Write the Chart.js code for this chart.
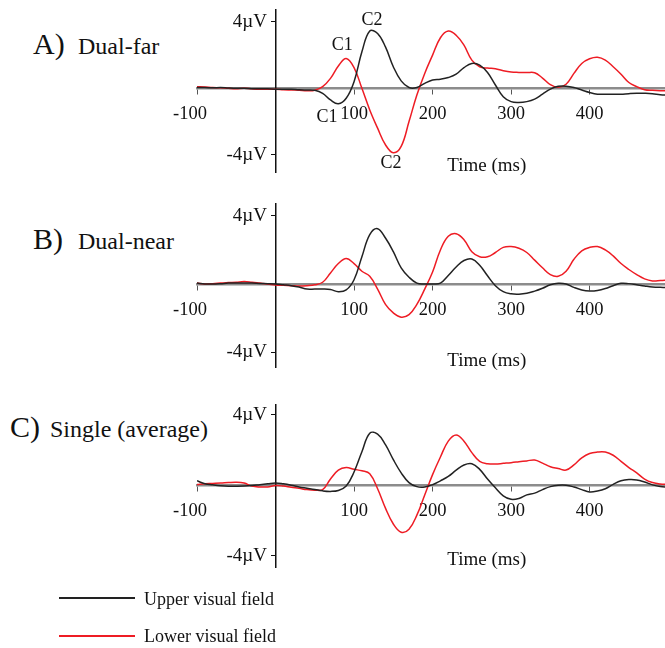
<!DOCTYPE html>
<html>
<head>
<meta charset="utf-8">
<script src="https://cdn.jsdelivr.net/npm/chart.js@4.4.1/dist/chart.umd.min.js"></script>
<style>
body { margin: 0; background: #fff; width: 665px; height: 648px; overflow: hidden; position: relative;
       font-family: "Liberation Serif", "Times New Roman", serif; color: #111; }
canvas { position: absolute; left: 0; }
.title { position: absolute; font-size: 30px; line-height: 30px; white-space: nowrap; }
.title span.k { display: inline-block; }
.title span.n { font-size: 24px; }
.leg { position: absolute; left: 59px; width: 76px; height: 2px; }
.legtxt { position: absolute; left: 144px; font-size: 18px; line-height: 20px; }
</style>
</head>
<body>

<div class="title" style="left:33px;top:29px"><span class="k" style="width:45px">A)</span><span class="n">Dual-far</span></div>
<div class="title" style="left:33px;top:224px"><span class="k" style="width:45px">B)</span><span class="n">Dual-near</span></div>
<div class="title" style="left:10px;top:412px"><span class="k" style="width:40px">C)</span><span class="n">Single (average)</span></div>

<canvas id="chartA" width="665" height="200" style="top:-10px"></canvas>
<canvas id="chartB" width="665" height="200" style="top:184px"></canvas>
<canvas id="chartC" width="665" height="200" style="top:385px"></canvas>

<div class="leg" style="top:597px;background:#222"></div>
<div class="legtxt" style="top:589px">Upper visual field</div>
<div class="leg" style="top:635px;background:#ee1c24"></div>
<div class="legtxt" style="top:626px">Lower visual field</div>

<script>
// Eixo do tempo (ms), comum aos três painéis
var tempo = [];
for (var t = -100; t <= 500; t += 10) tempo.push(t);

var ticksX = [-100, 100, 200, 300, 400];
var ticksY = [-4, 4];

// A) Dual-far
var farSuperior = [0.05, 0.05, 0.03, 0.05, 0.02, 0.0, 0.0, -0.02, -0.03, -0.03,
    -0.05, -0.05, -0.05, -0.08, -0.1, -0.12, -0.3, -0.7, -0.93, -0.6,
    0.4, 2.2, 3.45, 3.3, 2.5, 1.3, 0.45, 0.05, 0.05, 0.3,
    0.5, 0.55, 0.65, 0.85, 1.25, 1.5, 1.4, 0.95, 0.2, -0.5,
    -0.8, -0.85, -0.8, -0.65, -0.35, -0.05, 0.12, 0.13, 0.05, -0.1,
    -0.25, -0.35, -0.36, -0.36, -0.35, -0.32, -0.3, -0.3, -0.32, -0.38, -0.4];
var farInferior = [0.1, 0.08, 0.05, 0.03, 0.0, -0.02, 0.0, -0.03, -0.05, -0.05,
    -0.05, -0.08, -0.1, -0.12, -0.15, -0.12, 0.1, 0.6, 1.35, 1.8,
    1.25, 0.0, -1.3, -2.4, -3.4, -3.88, -3.5, -2.0, -0.4, 0.9,
    2.0, 3.05, 3.45, 3.2, 2.6, 1.7, 1.3, 1.22, 1.18, 1.06,
    0.98, 0.96, 0.95, 0.94, 0.62, 0.22, 0.06, 0.25, 0.9, 1.5,
    1.78, 1.87, 1.7, 1.3, 0.85, 0.35, 0.1, -0.08, -0.12, -0.14, -0.14];

// B) Dual-near
var nearSuperior = [0.05, 0.0, 0.0, 0.02, 0.05, 0.05, 0.05, 0.05, 0.03, 0.02,
    0.0, -0.05, -0.1, -0.18, -0.3, -0.3, -0.3, -0.33, -0.45, -0.35,
    0.25, 1.6, 2.9, 3.25, 2.7, 1.9, 0.95, 0.4, 0.05, 0.0,
    0.0, 0.05, 0.5, 1.0, 1.38, 1.47, 1.1, 0.48, -0.1, -0.45,
    -0.58, -0.6, -0.55, -0.42, -0.25, -0.05, 0.04, 0.0, -0.2, -0.35,
    -0.41, -0.38, -0.27, -0.1, 0.04, 0.02, -0.05, -0.12, -0.18, -0.2, -0.2];
var nearInferior = [0.05, 0.0, 0.02, 0.05, 0.08, 0.1, 0.14, 0.1, 0.05, 0.0,
    -0.06, -0.08, -0.1, -0.12, -0.1, -0.05, 0.1, 0.65, 1.2, 1.5,
    1.2, 0.75, 0.45, -0.3, -1.2, -1.7, -1.95, -1.8, -1.2, -0.3,
    0.7, 2.0, 2.8, 2.95, 2.6, 1.9, 1.6, 1.6, 1.85, 2.15,
    2.2, 2.1, 1.85, 1.4, 0.95, 0.55, 0.45, 0.75, 1.45, 1.95,
    2.15, 2.2, 2.0, 1.65, 1.2, 0.85, 0.55, 0.3, 0.18, 0.2, 0.24];

// C) Single (average)
var singleSuperior = [0.25, 0.08, 0.02, -0.03, -0.06, -0.06, -0.05, -0.02, 0.03, 0.08,
    0.13, 0.08, 0.0, -0.1, -0.17, -0.24, -0.32, -0.35, -0.3, -0.05,
    0.75, 1.9, 2.95, 2.9, 2.3, 1.45, 0.7, 0.15, -0.08, -0.1,
    0.03, 0.25, 0.5, 0.85, 1.15, 1.22, 0.9, 0.35, -0.15, -0.6,
    -0.8, -0.75, -0.55, -0.45, -0.25, -0.08, 0.0, 0.0, -0.1, -0.25,
    -0.38, -0.33, -0.2, 0.05, 0.25, 0.32, 0.3, 0.18, 0.02, -0.08, -0.1];
var singleInferior = [0.04, 0.08, 0.1, 0.12, 0.15, 0.17, 0.12, -0.05, -0.1, -0.1,
    -0.02, -0.05, -0.12, -0.18, -0.25, -0.28, -0.25, 0.35, 0.85, 1.0,
    0.9, 0.82, 0.65, -0.2, -1.3, -2.2, -2.67, -2.5, -1.7, -0.55,
    0.6, 1.6, 2.5, 2.85, 2.5, 1.85, 1.35, 1.22, 1.2, 1.24,
    1.28, 1.33, 1.38, 1.43, 1.25, 1.05, 0.95, 0.86, 1.15, 1.55,
    1.8, 1.88, 1.88, 1.7, 1.35, 1.0, 0.7, 0.35, 0.15, 0.07, 0.06];

var fonte = '"Liberation Serif", "Times New Roman", serif';

// Plugin simples para escrever rótulos (C1, C2, Time (ms)) em coordenadas dos dados
var pluginRotulos = {
    id: 'rotulos',
    afterDraw: function (chart, args, opts) {
        var ctx = chart.ctx;
        ctx.save();
        ctx.fillStyle = '#111';
        ctx.textAlign = 'center';
        ctx.textBaseline = 'middle';
        (opts.itens || []).forEach(function (item) {
            ctx.font = item.size + 'px ' + fonte;
            ctx.fillText(item.texto, chart.scales.x.getPixelForValue(item.t), chart.scales.y.getPixelForValue(item.v));
        });
        ctx.restore();
    }
};

function serie(valores) {
    return valores.map(function (v, i) { return { x: tempo[i], y: v }; });
}

function desenharPainel(id, superior, inferior, yMin, yMax, padTop, padBottom, rotulos) {
    return new Chart(document.getElementById(id), {
        type: 'line',
        data: {
            datasets: [
                { label: 'Upper visual field', data: serie(superior), borderColor: '#222', borderWidth: 1.5 },
                { label: 'Lower visual field', data: serie(inferior), borderColor: '#ee1c24', borderWidth: 1.5 }
            ]
        },
        options: {
            responsive: false,
            animation: false,
            events: [],
            elements: { point: { radius: 0 }, line: { tension: 0.4 } },
            layout: { padding: { left: 197, right: 0, top: padTop, bottom: padBottom } },
            plugins: { legend: { display: false }, tooltip: { enabled: false }, rotulos: { itens: rotulos } },
            scales: {
                x: {
                    type: 'linear', min: -100, max: 496,
                    position: { y: 0 },
                    afterBuildTicks: function (s) { s.ticks = ticksX.map(function (v) { return { value: v }; }); },
                    // o "-100" do original fica um pouco à esquerda do início do eixo
                    ticks: { color: '#111', font: { family: fonte, size: 18.5 }, padding: 10, maxRotation: 0, autoSkip: false,
                        callback: function (v) { return v < 0 ? v + ' \u2002' : String(v); } },
                    grid: { drawOnChartArea: false, drawTicks: true, tickLength: 5, tickColor: '#555', tickWidth: 1 },
                    border: { display: true, color: '#8c8c8c', width: 2.5 }
                },
                y: {
                    type: 'linear', min: yMin, max: yMax,
                    position: { x: 0 },
                    afterBuildTicks: function (s) { s.ticks = ticksY.map(function (v) { return { value: v }; }); },
                    // eixo centrado: o Chart.js não aplica padding aqui, então o espaço vai no texto
                    ticks: { color: '#111', font: { family: fonte, size: 19 },
                        callback: function (v) { return v + '\u00B5V \u2009'; } },
                    grid: { drawOnChartArea: false, drawTicks: true, tickLength: 4, tickColor: '#111', tickWidth: 1 },
                    border: { display: true, color: '#111', width: 1.5 }
                }
            }
        },
        plugins: [pluginRotulos]
    });
}

document.addEventListener('DOMContentLoaded', function () {
    desenharPainel('chartA', farSuperior, farInferior, -5.04, 4.72, 20, 18, [
        { texto: 'C1', t: 85, v: 2.6, size: 18 },
        { texto: 'C2', t: 123, v: 4.1, size: 18 },
        { texto: 'C1', t: 65.6, v: -1.73, size: 18 },
        { texto: 'C2', t: 147, v: -4.5, size: 18 },
        { texto: 'Time (ms)', t: 269, v: -4.68, size: 19 }
    ]);
    desenharPainel('chartB', nearSuperior, nearInferior, -4.88, 4.7, 20, 17, [
        { texto: 'Time (ms)', t: 269, v: -4.5, size: 19 }
    ]);
    desenharPainel('chartC', singleSuperior, singleInferior, -4.64, 4.55, 20, 18, [
        { texto: 'Time (ms)', t: 269, v: -4.26, size: 19 }
    ]);
});
</script>
</body>
</html>
